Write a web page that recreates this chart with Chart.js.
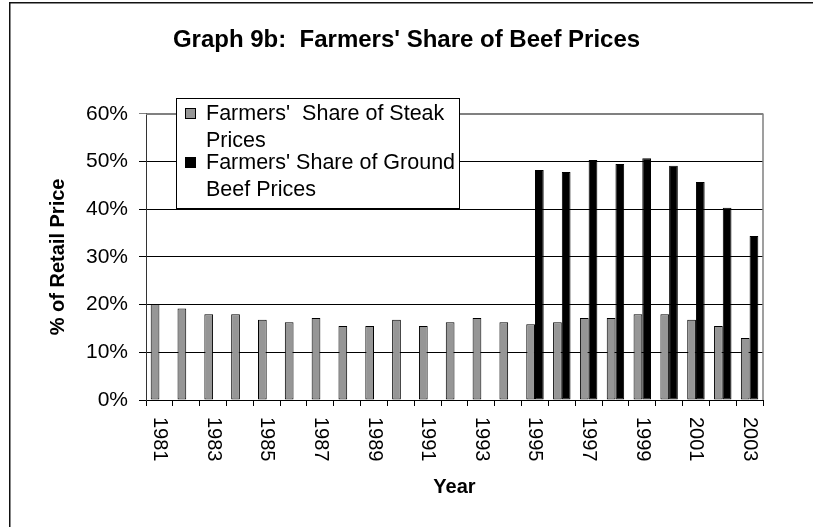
<!DOCTYPE html>
<html>
<head>
<meta charset="utf-8">
<script src="https://cdn.jsdelivr.net/npm/chart.js@4/dist/chart.umd.min.js"></script>
<style>
  html, body { margin: 0; padding: 0; background: #fff; }
  #wrap { width: 813px; height: 527px; }
</style>
</head>
<body>
<div id="wrap"><canvas id="c" width="813" height="527"></canvas></div>
<script>
// ---- data ----
const years = ['1981','1982','1983','1984','1985','1986','1987','1988','1989','1990','1991','1992',
               '1993','1994','1995','1996','1997','1998','1999','2000','2001','2002','2003'];
const tickLabels = ['1981','1983','1985','1987','1989','1991','1993','1995','1997','1999','2001','2003'];
const steakShare = [20.1, 19.2, 18.0, 18.0, 16.8, 16.3, 17.2, 15.5, 15.5, 16.8, 15.5, 16.3,
                    17.2, 16.3, 15.9, 16.3, 17.2, 17.2, 18.0, 18.0, 16.8, 15.5, 13.0];
const groundShare = [null, null, null, null, null, null, null, null, null, null, null, null,
                     null, null, 48.2, 47.8, 50.3, 49.5, 50.7, 49.1, 45.7, 40.3, 34.4];
const yTicks = [0, 10, 20, 30, 40, 50, 60];
const seriesNames = [["Farmers'  Share of Steak", "Prices"], ["Farmers' Share of Ground", "Beef Prices"]];
const titleText = "Graph 9b:  Farmers' Share of Beef Prices";

const FONT = "'Liberation Sans', Arial, sans-serif";
const STEAK_COLOR = '#969696';
const GROUND_COLOR = '#000000';

const decor = {
  id: 'decor',
  beforeDraw(chart) {
    const ctx = chart.ctx;
    ctx.save();
    ctx.fillStyle = '#fff';
    ctx.fillRect(0, 0, chart.width, chart.height);
    ctx.strokeStyle = '#111';
    ctx.lineWidth = 1.5;
    ctx.strokeRect(9.75, 2.75, 900, 700);
    ctx.restore();
  },
  beforeDatasetsDraw(chart) {
    const ctx = chart.ctx;
    const a = chart.chartArea;
    ctx.save();
    ctx.strokeStyle = '#808080';
    ctx.lineWidth = 1.5;
    ctx.beginPath();
    ctx.moveTo(a.left, a.top + 0.5);
    ctx.lineTo(a.right, a.top + 0.5);
    ctx.lineTo(a.right, a.bottom);
    ctx.stroke();
    ctx.restore();
  },
  afterDraw(chart) {
    const ctx = chart.ctx;
    const xs = chart.scales.x;
    ctx.save();
    // x tick labels, rotated clockwise
    ctx.fillStyle = '#000';
    ctx.font = '20px ' + FONT;
    ctx.textAlign = 'left';
    ctx.textBaseline = 'middle';
    tickLabels.forEach(lbl => {
      const idx = years.indexOf(lbl);
      const x = xs.getPixelForValue(idx);
      ctx.save();
      ctx.translate(x, 417);
      ctx.rotate(Math.PI / 2);
      ctx.fillText(lbl, 0, 0);
      ctx.restore();
    });
    // legend
    const lx = 176, ly = 98, lw = 283, lh = 110;
    ctx.fillStyle = '#fff';
    ctx.fillRect(lx, ly, lw, lh);
    ctx.strokeStyle = '#000';
    ctx.lineWidth = 1;
    ctx.strokeRect(lx + 0.5, ly + 0.5, lw, lh);
    const colors = [STEAK_COLOR, GROUND_COLOR];
    const rows = [[113, 140], [162, 189]];
    ctx.font = '21.5px ' + FONT;
    ctx.textBaseline = 'middle';
    seriesNames.forEach((lines, i) => {
      ctx.fillStyle = colors[i];
      ctx.fillRect(185, rows[i][0] - 5, 11, 11);
      ctx.strokeStyle = '#000';
      ctx.strokeRect(185.5, rows[i][0] - 4.5, 10, 10);
      ctx.fillStyle = '#000';
      lines.forEach((t, j) => ctx.fillText(t, 206, rows[i][j] + 1));
    });
    ctx.restore();
  }
};

new Chart(document.getElementById('c'), {
  type: 'bar',
  data: {
    labels: years,
    datasets: [
      { label: seriesNames[0].join(' '), data: steakShare, backgroundColor: STEAK_COLOR,
        borderColor: '#000', borderWidth: 1, borderSkipped: false,
        categoryPercentage: 0.65, barPercentage: 1.0 },
      { label: seriesNames[1].join(' '), data: groundShare, backgroundColor: GROUND_COLOR,
        borderColor: '#000', borderWidth: 1, borderSkipped: false,
        categoryPercentage: 0.65, barPercentage: 1.0 }
    ]
  },
  options: {
    responsive: false,
    animation: false,
    devicePixelRatio: 1,
    layout: { padding: { left: 0, right: 0, top: 0, bottom: 0 } },
    plugins: {
      legend: { display: false },
      tooltip: { enabled: false },
      title: {
        display: true, text: titleText, color: '#000',
        font: { family: FONT, size: 24, weight: 'bold', lineHeight: 1.2 },
        padding: { top: 26, bottom: 59 }
      }
    },
    scales: {
      x: {
        afterFit(s) { s.height = 127; },
        grid: { offset: true, drawOnChartArea: false, drawTicks: true, tickLength: 6, color: '#000', lineWidth: 1 },
        border: { display: true, color: '#000', width: 1 },
        ticks: { display: false, autoSkip: false },
        title: { display: true, text: 'Year', color: '#000',
                 font: { family: FONT, size: 20, weight: 'bold', lineHeight: 1.2 },
                 padding: { top: 0, bottom: 28 } }
      },
      y: {
        min: 0, max: 60,
        afterFit(s) { s.width = 146; },
        afterBuildTicks(s) { s.ticks = yTicks.map(v => ({ value: v })); },
        grid: {
          color: c => (c.tick && c.tick.value === 60 ? '#808080' : '#000'),
          lineWidth: 1, tickLength: 7, drawTicks: true
        },
        border: { display: true, color: '#333', width: 1 },
        ticks: { color: '#000', padding: 11, font: { family: FONT, size: 21 },
                 callback: v => v + '%' },
        title: { display: true, text: '% of Retail Price', color: '#000',
                 font: { family: FONT, size: 20, weight: 'bold', lineHeight: 1.2 },
                 padding: { top: 46, bottom: 0 } }
      },
      yRight: {
        type: 'linear', position: 'right', display: true,
        afterFit(s) { s.width = 50; },
        grid: { display: false, drawTicks: false },
        border: { display: false },
        ticks: { display: false }
      }
    }
  },
  plugins: [decor]
});
</script>
</body>
</html>
